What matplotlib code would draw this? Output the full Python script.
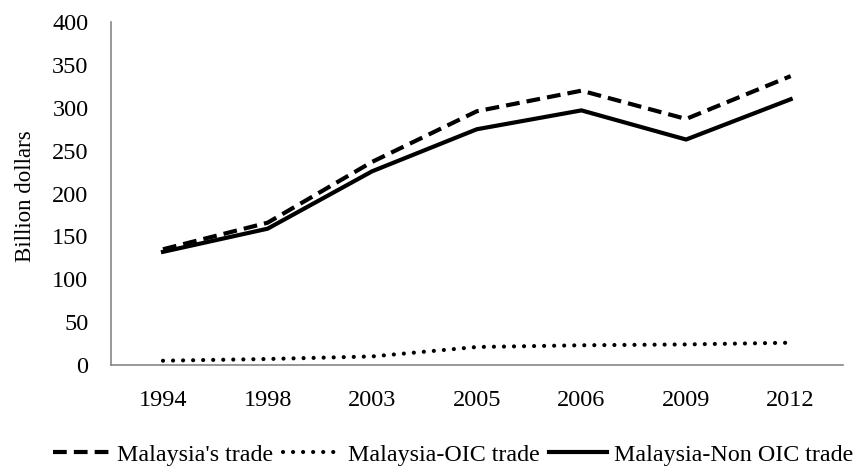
import matplotlib.pyplot as plt

years = ["1994", "1998", "2003", "2005", "2006", "2009", "2012"]
total_trade = [135, 166, 237, 296, 320, 287, 337]
oic_trade = [5, 7, 10, 21, 23, 24, 26]
non_oic_trade = [132, 159, 226, 275, 297, 263, 310]

plt.rcParams['font.family'] = ['Liberation Serif', 'DejaVu Serif']

fig = plt.figure(figsize=(8.58, 4.70), dpi=100)
ax = fig.add_axes([0.129, 0.2234, 0.8535, 0.7296])

x = range(len(years))
ax.plot(x, total_trade, color='black', lw=3, linestyle=(0, (3.3, 1.7)),
        label="Malaysia's trade")
ax.plot(x, oic_trade, color='black', lw=3, linestyle=(0, (0.01, 2.4)),
        dash_capstyle='round', label="Malaysia-OIC trade")
ax.plot(x, non_oic_trade, color='black', lw=3, label="Malaysia-Non OIC trade")

ax.set_xlim(-0.5, len(years) - 0.5)
ax.set_ylim(0, 400)
ax.set_yticks(range(0, 401, 50))
ax.set_xticks(list(x))
ax.set_xticklabels(years)
ax.tick_params(length=0, labelsize=17.5, colors='black')
ax.tick_params(axis='x', pad=18)
ax.tick_params(axis='y', pad=16)
ax.set_ylabel("Billion dollars", fontsize=16.5)
ax.yaxis.set_label_coords(-0.102, 0.493)

for side in ['top', 'right']:
    ax.spines[side].set_visible(False)
for side in ['left', 'bottom']:
    ax.spines[side].set_color('#868686')
    ax.spines[side].set_linewidth(1.2)

# legend sits at the very bottom; nudged up a bit so the text isn't clipped
fig.legend(loc='center', bbox_to_anchor=(0.528, 0.032), ncol=3, frameon=False,
           fontsize=17.3, handlelength=2.4, handletextpad=0.3, columnspacing=0.4)

fig.savefig("out.png", dpi=100)
